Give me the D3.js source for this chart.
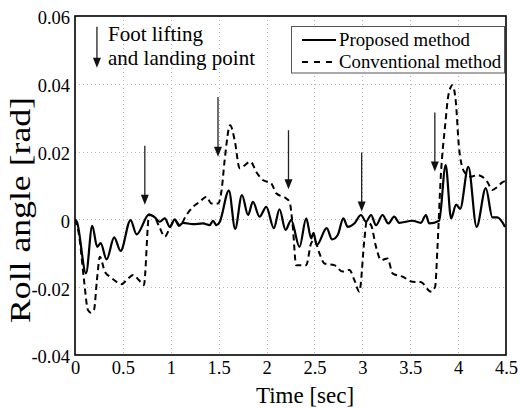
<!DOCTYPE html>
<html>
<head>
<meta charset="utf-8">
<script src="https://cdn.jsdelivr.net/npm/d3@7"></script>
<style>
  html, body { margin: 0; padding: 0; background: #fff; }
  svg { display: block; }
  text { font-family: "Liberation Serif", "Times New Roman", serif; fill: #000; }
</style>
</head>
<body>
<div id="chart"></div>
<script>
// ---- Data ----
const xTicks = [0, 0.5, 1, 1.5, 2, 2.5, 3, 3.5, 4, 4.5];
const xTickLabels = ["0", "0.5", "1", "1.5", "2", "2.5", "3", "3.5", "4", "4.5"];
const yTicks = [-0.04, -0.02, 0, 0.02, 0.04, 0.06];
const yTickLabels = ["-0.04", "-0.02", "0", "0.02", "0.04", "0.06"];

const proposedTime = [0.000,0.021,0.115,0.180,0.232,0.268,0.330,0.409,0.476,0.580,0.643,0.774,0.833,0.885,0.9375,0.990,1.042,1.086,1.128,1.232,1.336,1.406,1.441,1.476,1.510,1.607,1.672,1.743,1.807,1.857,1.927,1.997,2.076,2.135,2.198,2.257,2.344,2.414,2.466,2.490,2.524,2.628,2.684,2.743,2.802,2.847,2.917,2.986,3.038,3.091,3.143,3.211,3.271,3.333,3.385,3.524,3.611,3.664,3.698,3.802,3.870,3.927,3.979,4.021,4.107,4.193,4.289,4.358,4.410,4.490];
const proposedRoll = [0.0000,-0.0008,-0.0159,-0.0019,-0.0081,-0.0070,-0.0118,-0.0053,-0.0093,-0.0002,-0.0044,0.0015,0.0006,-0.0007,0.0003,-0.0022,0.0000,-0.0019,-0.0010,-0.0014,-0.0012,-0.0017,-0.0004,-0.0017,-0.0008,0.0085,-0.0028,0.0072,0.0013,0.0052,0.0008,0.0037,-0.0026,0.0030,-0.0031,-0.0002,-0.0081,0.0003,-0.0056,-0.0040,-0.0076,-0.0026,-0.0059,-0.0046,0.0003,-0.0022,-0.0012,0.0013,-0.0007,0.0013,-0.0017,0.0013,-0.0012,0.0008,-0.0010,-0.0004,-0.0010,0.0013,-0.0012,-0.0004,0.0160,0.0003,0.0044,0.0031,0.0155,-0.0022,0.0092,0.0006,0.0006,-0.0022];

const conventionalTime = [0.000,0.042,0.094,0.135,0.167,0.198,0.229,0.260,0.3125,0.365,0.434,0.486,0.539,0.607,0.667,0.719,0.774,0.826,0.885,0.9375,0.990,1.042,1.094,1.164,1.232,1.302,1.372,1.424,1.493,1.531,1.5625,1.620,1.667,1.719,1.833,1.893,1.961,2.049,2.101,2.205,2.240,2.274,2.309,2.414,2.466,2.500,2.552,2.604,2.708,2.795,2.865,2.917,2.969,3.021,3.045,3.091,3.143,3.195,3.264,3.316,3.420,3.524,3.611,3.716,3.760,3.784,3.820,3.865,3.899,3.941,3.976,4.010,4.063,4.132,4.201,4.305,4.357,4.410,4.461,4.490];
const conventionalRoll = [0.0000,-0.0046,-0.0179,-0.0267,-0.0275,-0.0267,-0.0179,-0.0110,-0.0155,-0.0169,-0.0184,-0.0191,-0.0179,-0.0164,-0.0179,-0.0194,0.0013,0.0008,-0.0025,-0.0051,-0.0025,-0.0002,-0.0017,0.0013,0.0037,0.0052,0.0067,0.0047,0.0047,0.0087,0.0175,0.0278,0.0234,0.0151,0.0170,0.0140,0.0116,0.0106,0.0077,0.0062,0.0052,-0.0022,-0.0135,-0.0135,-0.0070,-0.0061,-0.0100,-0.0130,-0.0135,-0.0154,-0.0149,-0.0179,-0.0213,-0.0061,-0.0007,-0.0017,-0.0081,-0.0120,-0.0115,-0.0159,-0.0169,-0.0184,-0.0185,-0.0213,-0.0199,-0.0085,0.0131,0.0278,0.0367,0.0396,0.0347,0.0210,0.0141,0.0126,0.0131,0.0111,0.0087,0.0096,0.0109,0.0113];

// foot lifting / landing markers (time, arrow start value, arrow tip value)
const markerTime = [0.729, 1.493, 2.229, 2.993, 3.757];
const markerStart = [0.0217, 0.0361, 0.0263, 0.0197, 0.0315];
const markerTip = [0.0043, 0.0185, 0.0089, 0.0023, 0.0141];

const seriesNames = ["Proposed method", "Conventional method"];
const annotationLines = ["Foot lifting", "and landing point"];
const xTitle = "Time [sec]";
const yTitle = "Roll angle [rad]";

// ---- Layout ----
const W = 520, H = 408;
const mLeft = 75, mRight = 506, mTop = 16, mBottom = 355;

const svg = d3.select("#chart").append("svg").attr("width", W).attr("height", H);

const x = d3.scaleLinear().domain([0, 4.5]).range([mLeft, mRight]);
const y = d3.scaleLinear().domain([-0.04, 0.06]).range([mBottom, mTop]);

// grid
const grid = svg.append("g").attr("stroke", "#b8b8b8").attr("stroke-width", 1).attr("stroke-dasharray", "1,3");
grid.selectAll("line.vx").data(xTicks.filter(d => d > 0 && d < 4.5)).enter().append("line")
  .attr("x1", d => Math.round(x(d)) + 0.5).attr("x2", d => Math.round(x(d)) + 0.5)
  .attr("y1", mTop).attr("y2", mBottom);
grid.selectAll("line.hy").data(yTicks.filter(d => d > -0.04 && d < 0.06)).enter().append("line")
  .attr("x1", mLeft).attr("x2", mRight)
  .attr("y1", d => Math.round(y(d)) + 0.5).attr("y2", d => Math.round(y(d)) + 0.5);

// axes (labels only, no tick marks)
const xAxis = d3.axisBottom(x).tickValues(xTicks).tickSize(0).tickPadding(6)
  .tickFormat((d, i) => xTickLabels[i]);
const gx = svg.append("g").attr("transform", `translate(0,${mBottom})`).call(xAxis);
gx.attr("font-family", null).attr("font-size", null);
gx.select(".domain").remove();
gx.selectAll("text").style("font-size", "18.5px").style("font-family", "'Liberation Serif', serif").attr("fill", "#000");

const yAxis = d3.axisLeft(y).tickValues(yTicks).tickSize(0).tickPadding(5)
  .tickFormat((d, i) => yTickLabels[i]);
const gy = svg.append("g").attr("transform", `translate(${mLeft},2)`).call(yAxis);
gy.attr("font-family", null).attr("font-size", null);
gy.select(".domain").remove();
gy.selectAll("text").style("font-size", "18.5px").style("font-family", "'Liberation Serif', serif").attr("fill", "#000");

// clip
svg.append("clipPath").attr("id", "clip").append("rect")
  .attr("x", mLeft).attr("y", mTop).attr("width", mRight - mLeft).attr("height", mBottom - mTop);

const line = d3.line().x(d => x(d[0])).y(d => y(d[1])).curve(d3.curveMonotoneX);
const proposed = proposedTime.map((t, i) => [t, proposedRoll[i]]);
const conventional = conventionalTime.map((t, i) => [t, conventionalRoll[i]]);

svg.append("path").datum(conventional).attr("clip-path", "url(#clip)")
  .attr("d", line).attr("fill", "none").attr("stroke", "#000")
  .attr("stroke-width", 2).attr("stroke-dasharray", "6,4");
svg.append("path").datum(proposed).attr("clip-path", "url(#clip)")
  .attr("d", line).attr("fill", "none").attr("stroke", "#000")
  .attr("stroke-width", 2.2);

// arrows
function arrow(xp, y1, y2) {
  const g = svg.append("g");
  g.append("line").attr("x1", xp).attr("x2", xp).attr("y1", y1).attr("y2", y2 - 8)
    .attr("stroke", "#222").attr("stroke-width", 1.3);
  g.append("path").attr("d", `M${xp - 4},${y2 - 10} L${xp + 4},${y2 - 10} L${xp},${y2} Z`).attr("fill", "#111");
}
markerTime.forEach((t, i) => arrow(x(t), y(markerStart[i]), y(markerTip[i])));

// annotation
arrow(x(0.229), y(0.0568), y(0.0447));
svg.append("text").attr("x", 108).attr("y", 41).attr("font-size", 21).text(annotationLines[0]);
svg.append("text").attr("x", 108).attr("y", 65).attr("font-size", 21).text(annotationLines[1]);

// legend
const lg = svg.append("g");
lg.append("rect").attr("x", 291.5).attr("y", 26.5).attr("width", 213).attr("height", 46.5)
  .attr("fill", "#fff").attr("stroke", "#555").attr("stroke-width", 1);
lg.append("line").attr("x1", 302).attr("x2", 336).attr("y1", 40).attr("y2", 40)
  .attr("stroke", "#000").attr("stroke-width", 2.2);
lg.append("line").attr("x1", 302).attr("x2", 338).attr("y1", 62).attr("y2", 62)
  .attr("stroke", "#000").attr("stroke-width", 2).attr("stroke-dasharray", "6,6");
lg.append("text").attr("x", 339).attr("y", 46).attr("font-size", 18.8).text(seriesNames[0]);
lg.append("text").attr("x", 339).attr("y", 68).attr("font-size", 18.8).text(seriesNames[1]);

// frame
svg.append("rect").attr("x", mLeft).attr("y", mTop).attr("width", mRight - mLeft).attr("height", mBottom - mTop)
  .attr("fill", "none").attr("stroke", "#000").attr("stroke-width", 1.6);

// titles
svg.append("text").attr("x", 305).attr("y", 403).attr("text-anchor", "middle")
  .attr("font-size", 23).text(xTitle);
svg.append("text").attr("transform", "translate(30,210) rotate(-90)").attr("text-anchor", "middle")
  .attr("font-size", 29).attr("textLength", 226).attr("lengthAdjust", "spacingAndGlyphs").text(yTitle);
</script>
</body>
</html>
